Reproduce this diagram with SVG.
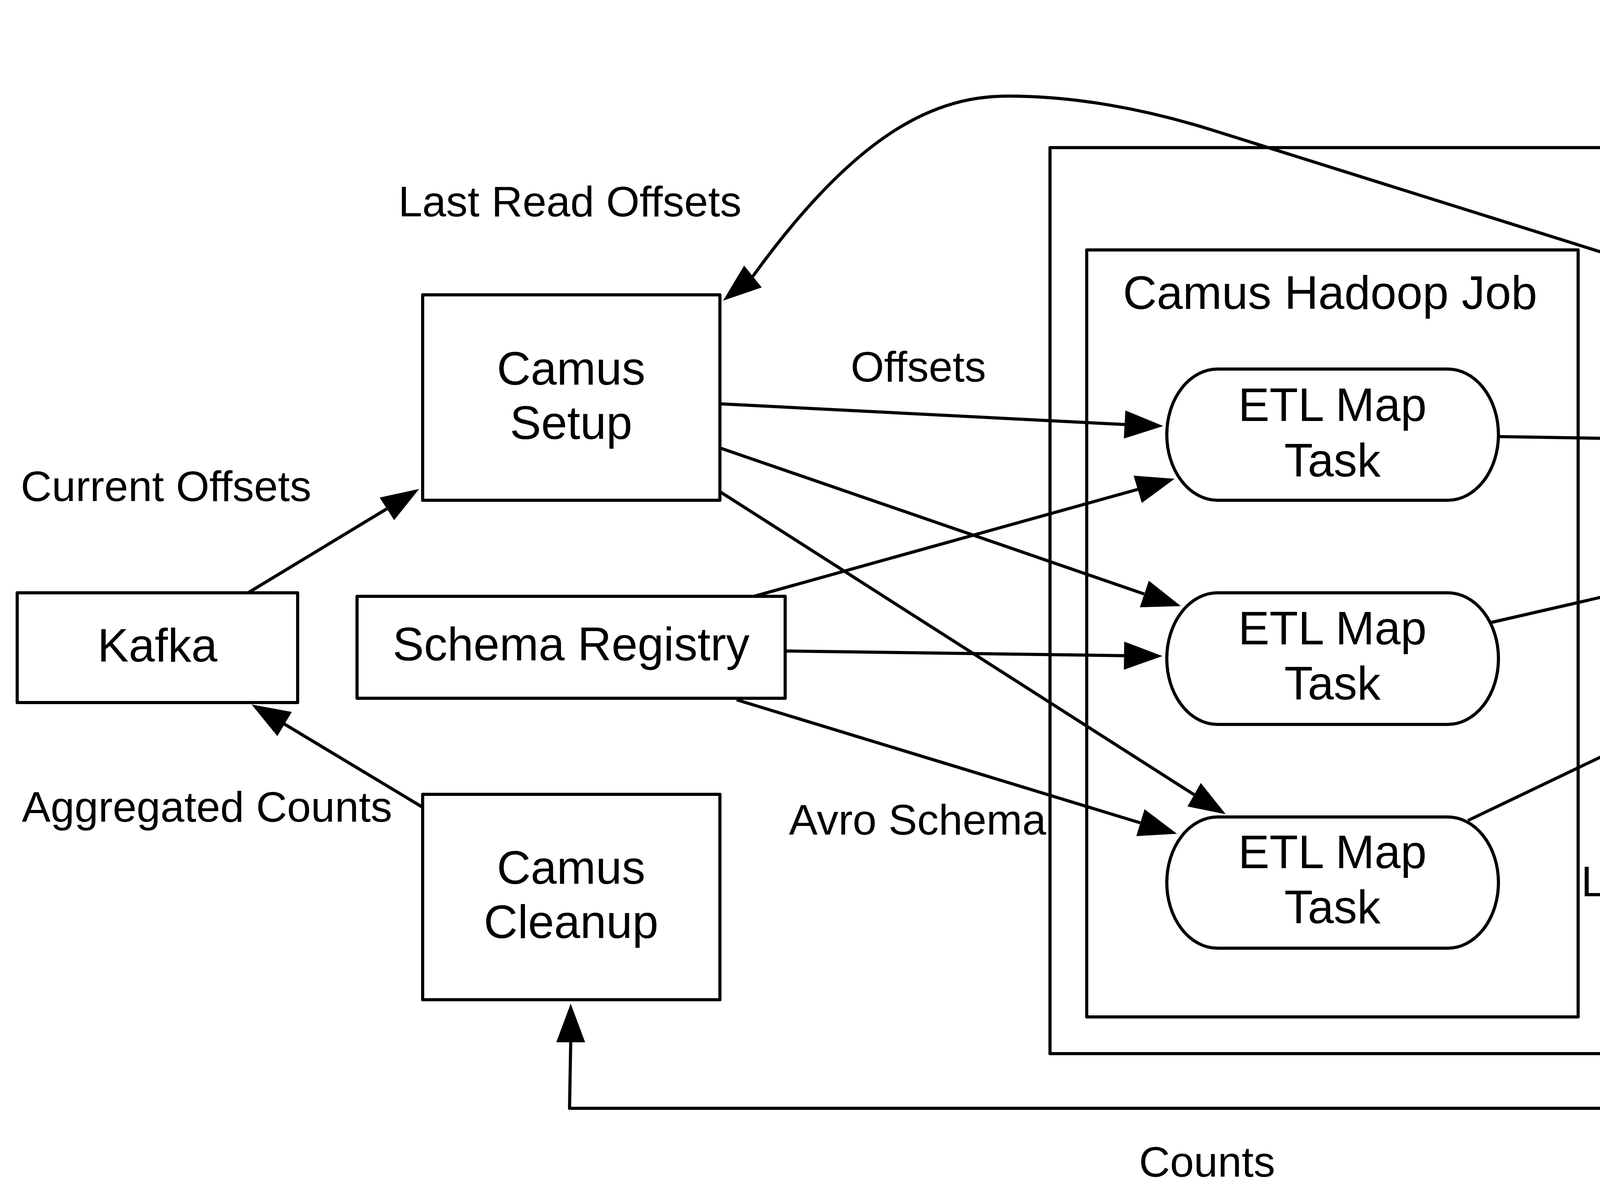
<svg xmlns="http://www.w3.org/2000/svg" width="6800" height="3060" viewBox="0 0 6800 3060">
<style>
  .box{fill:#fff;stroke:#000;stroke-width:8;stroke-linejoin:round}
  .cont{fill:none;stroke:#000;stroke-width:8;stroke-linejoin:round}
  .edge{fill:none;stroke:#000;stroke-width:8;stroke-linejoin:round}
  .ah{fill:#000;stroke:none}
  text{font-family:"Liberation Sans",Arial,Helvetica,sans-serif;fill:#000}
  .n{font-size:120px;text-anchor:middle}
  .c{font-size:120px}
  .d{font-size:110px;text-anchor:middle}
  .l{font-size:110px;text-anchor:middle}
</style>
<rect x="0" y="0" width="6800" height="3060" fill="#fff"/>

<g id="hadoop-cluster">
  <rect class="cont" x="2688" y="378" width="3939" height="2320"/>
  <text class="c" x="6571" y="531" text-anchor="end">Hadoop Cluster</text>
</g>
<g id="camus-hadoop-job">
  <rect class="cont" x="2782" y="640" width="1258" height="1964"/>
  <text class="c" x="3405" y="791" text-anchor="middle">Camus Hadoop Job</text>
</g>
<g id="hdfs">
  <rect class="cont" x="4945" y="620" width="1604" height="1965"/>
  <text class="c" x="6493" y="771" text-anchor="end">HDFS</text>
</g>

<g id="connectors">
  <!-- Kafka -> Camus Setup -->
  <path class="edge" d="M635,1518 L990,1303"/>
  <polygon class="ah" points="1073,1252 972,1274 1009,1332"/>
  <!-- Camus Cleanup -> Kafka -->
  <path class="edge" d="M1080,2066 L728,1854"/>
  <polygon class="ah" points="644,1804 747,1823 710,1885"/>
  <!-- Camus Setup -> ETL 1 -->
  <path class="edge" d="M1843,1034 L2879,1087"/>
  <polygon class="ah" points="2978,1091 2881,1051 2877,1123"/>
  <!-- Camus Setup -> ETL 2 -->
  <path class="edge" d="M1843,1147 L2929,1521"/>
  <polygon class="ah" points="3023,1552 2941,1487 2918,1555"/>
  <!-- Camus Setup -> ETL 3 -->
  <path class="edge" d="M1843,1259 L3057,2035"/>
  <polygon class="ah" points="3138,2085 3074,2005 3040,2065"/>
  <!-- Schema Registry -> ETL 1 -->
  <path class="edge" d="M1930,1527 L2913,1253"/>
  <polygon class="ah" points="3007,1226 2902,1218 2923,1288"/>
  <!-- Schema Registry -> ETL 2 -->
  <path class="edge" d="M2010,1667 L2878,1679"/>
  <polygon class="ah" points="2976,1680 2878,1643 2877,1715"/>
  <!-- Schema Registry -> ETL 3 -->
  <path class="edge" d="M1886,1792 L2919,2107"/>
  <polygon class="ah" points="3013,2135 2909,2141 2930,2072"/>
  <!-- ETL 1 -> Job Output -->
  <path class="edge" d="M3839,1118 L5176,1140"/>
  <polygon class="ah" points="5274,1142 5177,1104 5176,1176"/>
  <!-- ETL 2 -> Job Output -->
  <path class="edge" d="M3817,1594 L5179,1281"/>
  <polygon class="ah" points="5275,1260 5171,1245 5187,1317"/>
  <!-- ETL 3 -> Job Output -->
  <path class="edge" d="M3758,2101 L5296,1365"/>
  <polygon class="ah" points="5385,1323 5281,1332 5311,1397"/>
  <!-- Job Output -> Camus Setup (curve) -->
  <path class="edge" d="M5283,1017 L3100,332 C2930,279 2751,246 2581,246 C2400,246 2200,330 1927,708"/>
  <polygon class="ah" points="1851,770 1905,680 1950,736"/>
  <!-- Job Output -> Topic Output -->
  <path class="edge" d="M5748,1318 L5748,1940"/>
  <polygon class="ah" points="5748,2040 5711,1940 5785,1940"/>
  <!-- Job Output -> Camus Cleanup -->
  <path class="edge" d="M6211,1160 L6776,1160 L6776,2838 L1458,2838 L1461,2669"/>
  <polygon class="ah" points="1461,2570 1424,2669 1498,2669"/>

  <text class="l" x="1459" y="554">Last Read Offsets</text>
  <text class="l" x="2351" y="977">Offsets</text>
  <text class="l" x="425" y="1283">Current Offsets</text>
  <text class="l" x="530" y="2104">Aggregated Counts</text>
  <text class="l" x="2349" y="2137">Avro Schema</text>
  <text class="l" x="4487" y="2055">Avro Data</text>
  <text class="l" x="4487" y="2176">Kafka Requests</text>
  <text class="l" x="4487" y="2295">Last Read Offsets</text>
  <text class="l" x="4487" y="2415">Counts</text>
  <text class="l" x="4487" y="2535">Exceptions</text>
  <text class="l" x="6120" y="1551">Move Avro</text>
  <text class="l" x="6120" y="1670">data from temp</text>
  <text class="l" x="6120" y="1791">storage to</text>
  <text class="l" x="6120" y="1911">topic directory</text>
  <text class="l" x="3090" y="3013">Counts</text>
</g>

<g id="kafka">
  <rect class="box" x="44" y="1518" width="718" height="281"/>
  <text class="n" x="403" y="1694">Kafka</text>
</g>
<g id="camus-setup">
  <rect class="box" x="1082" y="755" width="761" height="526"/>
  <text class="n" x="1462" y="985">Camus</text>
  <text class="n" x="1462" y="1124">Setup</text>
</g>
<g id="schema-registry">
  <rect class="box" x="914" y="1527" width="1096" height="261"/>
  <text class="n" x="1462" y="1691">Schema Registry</text>
</g>
<g id="camus-cleanup">
  <rect class="box" x="1082" y="2034" width="761" height="526"/>
  <text class="n" x="1462" y="2263">Camus</text>
  <text class="n" x="1462" y="2402">Cleanup</text>
</g>
<g id="etl-map-task-1">
  <rect class="box" x="2987" y="945" width="849" height="336" rx="130" ry="168"/>
  <text class="n" x="3411" y="1078">ETL Map</text>
  <text class="n" x="3411" y="1220">Task</text>
</g>
<g id="etl-map-task-2">
  <rect class="box" x="2987" y="1518" width="849" height="337" rx="130" ry="168"/>
  <text class="n" x="3411" y="1650">ETL Map</text>
  <text class="n" x="3411" y="1791">Task</text>
</g>
<g id="etl-map-task-3">
  <rect class="box" x="2987" y="2092" width="849" height="336" rx="130" ry="168"/>
  <text class="n" x="3411" y="2223">ETL Map</text>
  <text class="n" x="3411" y="2364">Task</text>
</g>
<g id="job-output-directory">
  <rect class="box" x="5283" y="983" width="928" height="335"/>
  <text class="d" x="5748" y="1124">Job Output</text>
  <text class="d" x="5748" y="1246">Directory</text>
</g>
<g id="topic-output-directory">
  <rect class="box" x="5283" y="2049" width="928" height="336"/>
  <text class="d" x="5748" y="2191">Topic Output</text>
  <text class="d" x="5748" y="2312">Directory</text>
</g>
</svg>
